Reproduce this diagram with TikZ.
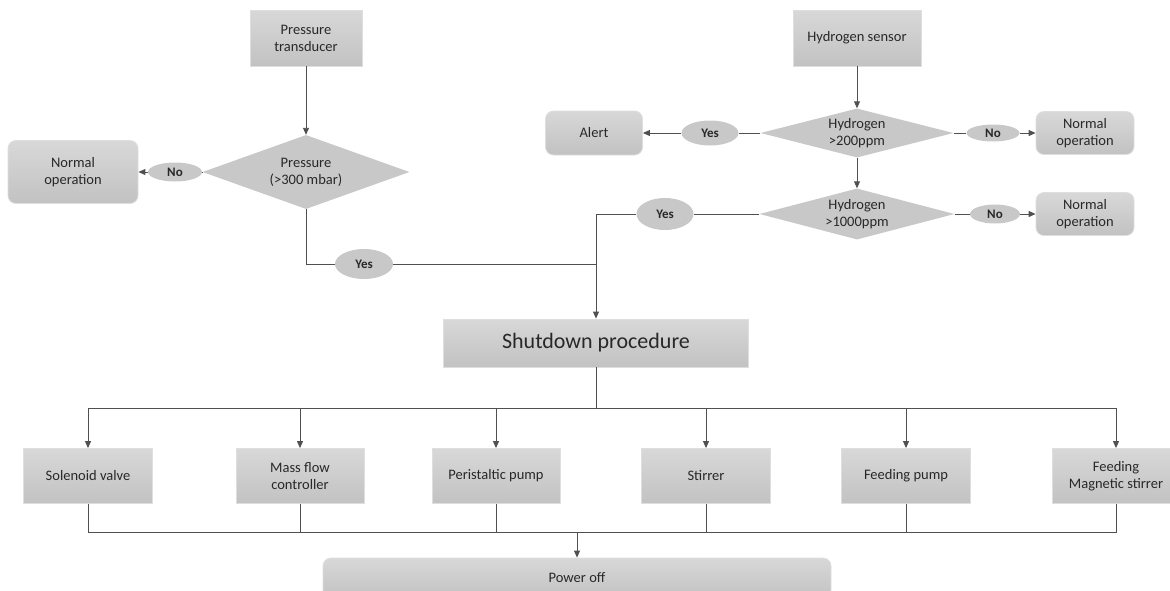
\documentclass[tikz,border=0pt]{standalone}
\usepackage{fontspec}
\setmainfont{Carlito}
\usepackage{tikz}
\usetikzlibrary{positioning, arrows.meta, shapes.geometric}

\definecolor{boxtop}{RGB}{216,216,216}
\definecolor{boxbot}{RGB}{194,194,194}
\definecolor{boxedge}{RGB}{222,222,222}
\definecolor{flatgray}{RGB}{200,200,200}
\definecolor{linegray}{RGB}{80,80,80}
\definecolor{textgray}{RGB}{40,40,40}

\begin{document}
\begin{tikzpicture}[x=1pt, y=-1pt,
    box/.style={rectangle, draw=boxedge, line width=0.8pt, top color=boxtop, bottom color=boxbot,
        text=textgray, font=\fontsize{14.5}{17}\selectfont, align=center, inner sep=0pt},
    rbox/.style={box, rounded corners=8pt},
    decision/.style={diamond, fill=flatgray, text=textgray, font=\fontsize{14.5}{17}\selectfont,
        align=center, inner sep=0pt, aspect=3.6},
    answer/.style={ellipse, fill=flatgray, text=textgray, font=\bfseries\fontsize{13}{15}\selectfont, inner sep=0pt},
    arrow/.style={-{Triangle[length=7pt, width=6pt]}, draw=linegray, line width=0.9pt},
    link/.style={draw=linegray, line width=0.9pt}
]
    \useasboundingbox (0,0) rectangle (1170,590);

    % === Pressure branch ===
    \node[box, minimum width=112pt, minimum height=56pt] (ptrans) at (306,38) {Pressure\\transducer};
    \node[decision, minimum width=207pt, minimum height=74pt, aspect=2.8] (pdec) at (306,172) {Pressure\\(>300 mbar)};
    \node[answer, minimum width=54pt, minimum height=19pt] (pno) at (175,172) {No};
    \node[rbox, minimum width=130pt, minimum height=63pt] (pnorm) at (73,172) {Normal\\operation};
    \node[answer, minimum width=58pt, minimum height=30pt] (pyes) at (364,264) {Yes};

    % === Hydrogen branch ===
    \node[box, minimum width=128pt, minimum height=56pt] (hsens) at (857,38) {Hydrogen sensor};
    \node[decision, minimum width=193pt, minimum height=49pt, aspect=3.9] (hdec1) at (857,133) {Hydrogen\\>200ppm};
    \node[answer, minimum width=57pt, minimum height=25pt] (hyes1) at (710,133) {Yes};
    \node[rbox, minimum width=97pt, minimum height=44pt] (alert) at (594,133) {Alert};
    \node[answer, minimum width=53pt, minimum height=17pt] (hno1) at (993,133) {No};
    \node[rbox, minimum width=98pt, minimum height=43pt] (hnorm1) at (1085,133) {Normal\\operation};

    \node[decision, minimum width=195pt, minimum height=51pt, aspect=3.8] (hdec2) at (857,214) {Hydrogen\\>1000ppm};
    \node[answer, minimum width=57pt, minimum height=32pt] (hyes2) at (665,214) {Yes};
    \node[answer, minimum width=50pt, minimum height=19pt] (hno2) at (995,214) {No};
    \node[rbox, minimum width=98pt, minimum height=43pt] (hnorm2) at (1085,214) {Normal\\operation};

    % === Shutdown ===
    \node[box, minimum width=305pt, minimum height=48pt, font=\fontsize{22}{26}\selectfont] (shut) at (596,343) {Shutdown procedure};
    \coordinate (join) at (596,264);
    \coordinate (fan) at (596,408);

    % Devices
    \node[box, minimum width=129pt, minimum height=55pt] (valve) at (88,476) {Solenoid valve};
    \node[box, minimum width=128pt, minimum height=55pt] (mfc) at (300,476) {Mass flow\\controller};
    \node[box, minimum width=128pt, minimum height=55pt] (ppump) at (496,476) {Peristaltic pump};
    \node[box, minimum width=129pt, minimum height=55pt] (stir) at (706,476) {Stirrer};
    \node[box, minimum width=129pt, minimum height=55pt] (fpump) at (906,476) {Feeding pump};
    \node[box, minimum width=128pt, minimum height=55pt] (mstir) at (1116,476) {Feeding\\Magnetic stirrer};

    % Power off
    \coordinate (merge) at (577,532);
    \node[rbox, minimum width=508pt, minimum height=40pt] (poff) at (577,578) {Power off};

    % === Connectors ===
    \draw[arrow] (ptrans) -- (pdec);
    \draw[link] (pdec) -- (pno);
    \draw[arrow] (pno) -- (pnorm);
    \draw[link] (pdec) |- (pyes);
    \draw[link] (pyes) -- (join);

    \draw[arrow] (hsens) -- (hdec1);
    \draw[link] (hdec1) -- (hyes1);
    \draw[arrow] (hyes1) -- (alert);
    \draw[link] (hdec1) -- (hno1);
    \draw[arrow] (hno1) -- (hnorm1);
    \draw[arrow] (hdec1) -- (hdec2);
    \draw[link] (hdec2) -- (hyes2);
    \draw[arrow] (hyes2) -| (shut);
    \draw[link] (hdec2) -- (hno2);
    \draw[arrow] (hno2) -- (hnorm2);

    \draw[link] (shut) -- (fan);
    \foreach \dev in {valve, mfc, ppump, stir, fpump, mstir}
        \draw[arrow] (fan) -| (\dev);
    \foreach \dev in {valve, mfc, ppump, stir, fpump, mstir}
        \draw[link] (\dev) |- (merge);
    \draw[arrow] (merge) -- (poff);

\end{tikzpicture}
\end{document}
